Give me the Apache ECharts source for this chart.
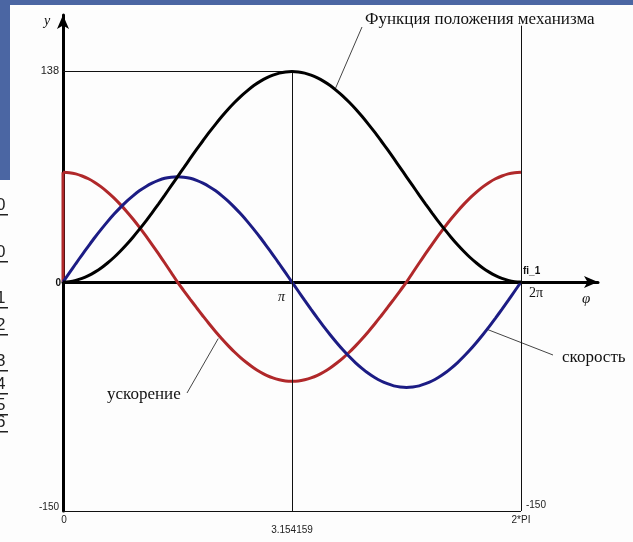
<!DOCTYPE html>
<html>
<head>
<meta charset="utf-8">
<script src="https://cdn.jsdelivr.net/npm/echarts@6/dist/echarts.min.js"></script>
<style>
  html, body { margin: 0; padding: 0; background: #fdfdfd; }
  #wrap { position: relative; width: 633px; height: 542px; overflow: hidden; }
  #chart { position: absolute; left: 0; top: 0; width: 633px; height: 542px; }
</style>
</head>
<body>
<div id="wrap"><div id="chart"></div></div>
<script>
// Crank angle φ sampled every 5°, 0 … 360°
const PI = Math.PI;
const phiDeg = [];
for (let d = 0; d <= 360; d += 5) phiDeg.push(d);

// Position of the mechanism
const position = [0, 0.3, 1.1, 2.4, 4.2, 6.5, 9.2, 12.5, 16.1, 20.2, 24.6, 29.4, 34.5, 39.8, 45.4, 51.1, 57.0, 63.0,
  69.0, 75.0, 81.0, 86.9, 92.6, 98.2, 103.5, 108.6, 113.4, 117.8, 121.9, 125.5, 128.8, 131.5, 133.8, 135.6, 136.9, 137.7,
  138, 137.7, 136.9, 135.6, 133.8, 131.5, 128.8, 125.5, 121.9, 117.8, 113.4, 108.6, 103.5, 98.2, 92.6, 86.9, 81.0, 75.0,
  69.0, 63.0, 57.0, 51.1, 45.4, 39.8, 34.5, 29.4, 24.6, 20.2, 16.1, 12.5, 9.2, 6.5, 4.2, 2.4, 1.1, 0.3, 0];
// Velocity
const velocity = [0, 6.0, 12.0, 17.9, 23.6, 29.2, 34.5, 39.6, 44.4, 48.8, 52.9, 56.5, 59.8, 62.5, 64.8, 66.6, 68.0, 68.7,
  69, 68.7, 68.0, 66.6, 64.8, 62.5, 59.8, 56.5, 52.9, 48.8, 44.4, 39.6, 34.5, 29.2, 23.6, 17.9, 12.0, 6.0,
  0, -6.0, -12.0, -17.9, -23.6, -29.2, -34.5, -39.6, -44.4, -48.8, -52.9, -56.5, -59.8, -62.5, -64.8, -66.6, -68.0, -68.7,
  -69, -68.7, -68.0, -66.6, -64.8, -62.5, -59.8, -56.5, -52.9, -48.8, -44.4, -39.6, -34.5, -29.2, -23.6, -17.9, -12.0, -6.0, 0];
// Acceleration
const acceleration = [72, 71.7, 70.9, 69.5, 67.7, 65.3, 62.4, 59.0, 55.2, 50.9, 46.3, 41.3, 36.0, 30.4, 24.6, 18.6, 12.5, 6.3,
  0, -5.7, -11.3, -16.8, -22.2, -27.5, -32.5, -37.3, -41.8, -46.0, -49.8, -53.2, -56.3, -58.9, -61.1, -62.8, -64.0, -64.8,
  -65, -64.8, -64.0, -62.8, -61.1, -58.9, -56.3, -53.2, -49.8, -46.0, -41.8, -37.3, -32.5, -27.5, -22.2, -16.8, -11.3, -5.7,
  0, 6.3, 12.5, 18.6, 24.6, 30.4, 36.0, 41.3, 46.3, 50.9, 55.2, 59.0, 62.4, 65.3, 67.7, 69.5, 70.9, 71.7, 72];

const yTop = 138, yBottom = -150;
const xEnd = 2 * PI;

const toPairs = arr => arr.map((v, i) => [phiDeg[i] * PI / 180, v]);

const chart = echarts.init(document.getElementById('chart'));

const frameStyle = { color: '#111', width: 1, type: 'solid' };

chart.setOption({
  animation: false,
  backgroundColor: 'transparent',
  grid: { left: 63, right: 35, top: 15, bottom: 31, containLabel: false },
  xAxis: {
    type: 'value', min: 0, max: 7.34,
    axisLine: { onZero: true, lineStyle: { color: '#000', width: 3 }, symbol: ['none', 'arrow'], symbolSize: [9, 14] },
    axisTick: { show: false }, axisLabel: { show: false }, splitLine: { show: false }
  },
  yAxis: {
    type: 'value', min: -150, max: 175,
    axisLine: { show: true, onZero: false, lineStyle: { color: '#000', width: 3 }, symbol: ['none', 'arrow'], symbolSize: [9, 14] },
    axisTick: { show: false }, axisLabel: { show: false }, splitLine: { show: false }
  },
  series: [
    {
      type: 'line', name: 'frame', data: [], silent: true,
      markLine: {
        symbol: 'none', silent: true, label: { show: false },
        lineStyle: frameStyle,
        data: [
          [{ coord: [0, yTop] }, { coord: [PI, yTop] }],
          [{ coord: [PI, yTop] }, { coord: [PI, yBottom] }],
          [{ coord: [0, yBottom] }, { coord: [xEnd, yBottom] }],
          [{ coord: [xEnd, 168] }, { coord: [xEnd, yBottom] }]
        ]
      }
    },
    {
      type: 'line', name: 'position', data: toPairs(position), smooth: 0.3,
      showSymbol: false, lineStyle: { color: '#000', width: 3 }, z: 5
    },
    {
      type: 'line', name: 'velocity', data: toPairs(velocity), smooth: 0.3,
      showSymbol: false, lineStyle: { color: '#1c1c84', width: 3 }, z: 4
    },
    {
      type: 'line', name: 'accelerationJump', data: [[0, 0], [0, acceleration[0]]],
      showSymbol: false, lineStyle: { color: '#b0282a', width: 3 }, z: 3
    },
    {
      type: 'line', name: 'acceleration', data: toPairs(acceleration), smooth: 0.3,
      showSymbol: false, lineStyle: { color: '#b0282a', width: 3 }, z: 3
    }
  ]
});

// Annotations placed through the chart's own coordinate system
const px = (x, y) => chart.convertToPixel({ gridIndex: 0 }, [x, y]);
const sans = '"Liberation Sans", Arial, sans-serif';
const serif = '"Liberation Serif", "Times New Roman", serif';

function txt(x, y, s, opt) {
  return {
    type: 'text', x: x, y: y,
    style: Object.assign({ text: s, font: '10px ' + sans, fill: '#222', align: 'left', verticalAlign: 'middle' }, opt || {})
  };
}
function leader(x1, y1, x2, y2) {
  return { type: 'line', shape: { x1, y1, x2, y2 }, style: { stroke: '#444', lineWidth: 1 } };
}

const o = px(0, 0);
const p138 = px(0, yTop);
const pBot = px(0, yBottom);
const pPi = px(PI, 0);
const pPiBot = px(PI, yBottom);
const p2Pi = px(xEnd, 0);
const p2PiBot = px(xEnd, yBottom);
const topY = px(0, 175)[1];
const xArrow = px(7.34, 0)[0];

// curve anchors for the leader lines
const aPos = px(3.73, 126);
const aAcc = px(2.13, -37);
const aVel = px(5.82, -31);

const g = [
  // slide edges
  { type: 'rect', shape: { x: 0, y: 0, width: 633, height: 5 }, style: { fill: '#4b66a3' }, z: -10 },
  { type: 'rect', shape: { x: 0, y: 0, width: 10, height: 180 }, style: { fill: '#4b66a3' }, z: -10 },

  txt(o[0] - 19, topY + 6, 'y', { font: 'italic 14px ' + serif, fill: '#111' }),
  txt(p138[0] - 4, p138[1], '138', { align: 'right', font: '11px ' + sans }),
  txt(o[0] - 2, o[1] + 1, '0', { align: 'right', font: 'bold 10px ' + sans, fill: '#111' }),
  txt(pBot[0] - 4, pBot[1] - 4, '-150', { align: 'right' }),
  txt(pBot[0] + 1, pBot[1] + 9, '0', { align: 'center' }),
  txt(pPiBot[0], pPiBot[1] + 19, '3.154159', { align: 'center' }),
  txt(p2PiBot[0] + 5, p2PiBot[1] - 6, '-150'),
  txt(p2PiBot[0], p2PiBot[1] + 9, '2*PI', { align: 'center' }),
  txt(pPi[0] - 14, pPi[1] + 15, 'π', { font: 'italic 14px ' + serif, fill: '#111' }),
  txt(p2Pi[0] + 8, p2Pi[1] + 11, '2π', { font: '14px ' + serif, fill: '#111' }),
  txt(p2Pi[0] + 2, p2Pi[1] - 11, 'fi_1', { font: 'bold 10px ' + sans, fill: '#111' }),
  txt(xArrow - 16, o[1] + 17, 'φ', { font: 'italic 15px ' + serif, fill: '#111' }),

  leader(aPos[0], aPos[1], 362, 27),
  txt(365, 20, 'Функция положения механизма', { font: '17px ' + serif, fill: '#111' }),
  leader(aAcc[0], aAcc[1], 187, 393),
  txt(107, 395, 'ускорение', { font: '17px ' + serif, fill: '#111' }),
  leader(aVel[0], aVel[1], 553, 355),
  txt(562, 358, 'скорость', { font: '17px ' + serif, fill: '#111' })
];

// slide outline numbering along the left edge (partly cut off)
const sideNums = ['0', '0', '1', '2', '3', '4', '5', '6'];
const sideY = [205, 252, 298, 325, 361, 384, 405, 422];
sideNums.forEach((n, i) => {
  g.push(txt(-4, sideY[i], n, { font: '17px ' + sans, fill: '#222' }));
  g.push({ type: 'rect', shape: { x: 0, y: sideY[i] + 9, width: 8, height: 1.5 }, style: { fill: '#222' } });
});

chart.setOption({ graphic: g });
</script>
</body>
</html>
